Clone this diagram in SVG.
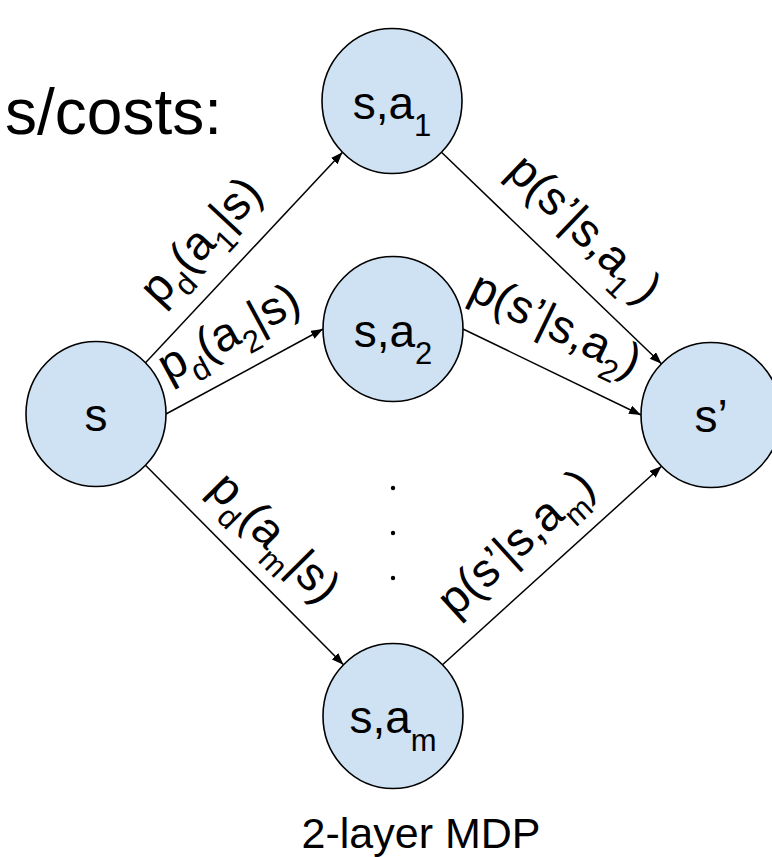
<svg xmlns="http://www.w3.org/2000/svg" width="772" height="857" viewBox="0 0 772 857">
<style>
text{font-family:"Liberation Sans",Arial,Helvetica,sans-serif;fill:#000}
.node ellipse{fill:#cfe2f3;stroke:#000;stroke-width:1.6}
.nt{font-size:46px}
.lab{font-size:47px}
.sub{font-size:31px}
.edge{stroke:#000;stroke-width:1.5;fill:none}
.dot{fill:#000}
</style>
<defs>
<marker id="arr" markerUnits="userSpaceOnUse" markerWidth="13" markerHeight="10" refX="12" refY="4.5" orient="auto">
<path d="M0,0 L12,4.5 L0,9 z" fill="#000"/>
</marker>
</defs>
<text x="222" y="134" font-size="64" text-anchor="end">s/costs:</text>
<g id="connectors">
<line class="edge" x1="145.5" y1="362.7" x2="342.5" y2="152.3" marker-end="url(#arr)"/>
<line class="edge" x1="166" y1="414" x2="323" y2="329" marker-end="url(#arr)"/>
<line class="edge" x1="441.5" y1="152.3" x2="661.5" y2="363.7" marker-end="url(#arr)"/>
<line class="edge" x1="463" y1="329" x2="641" y2="415" marker-end="url(#arr)"/>
<line class="edge" x1="145.5" y1="465.3" x2="343.5" y2="664.7" marker-end="url(#arr)"/>
<line class="edge" x1="442.5" y1="664.7" x2="661.5" y2="466.3" marker-end="url(#arr)"/>
</g>
<g id="labels">
<text class="lab" transform="translate(212,251) rotate(-47)" text-anchor="middle">p<tspan class="sub" dy="14">d</tspan><tspan dy="-14">(a</tspan><tspan class="sub" dy="14">1</tspan><tspan dy="-14">|s)</tspan></text>
<text class="lab" transform="translate(236,346) rotate(-28.4)" text-anchor="middle">p<tspan class="sub" dy="14">d</tspan><tspan dy="-14">(a</tspan><tspan class="sub" dy="14">2</tspan><tspan dy="-14">|s)</tspan></text>
<text class="lab" transform="translate(574,240) rotate(43.9)" text-anchor="middle">p(s’|s,a<tspan class="sub" dy="14">1</tspan><tspan dy="-14" dx="8">)</tspan></text>
<text class="lab" transform="translate(549,338) rotate(25.8)" text-anchor="middle">p(s’|s,a<tspan class="sub" dy="14">2</tspan><tspan dy="-14">)</tspan></text>
<text class="lab" transform="translate(264,548) rotate(45.2)" text-anchor="middle">p<tspan class="sub" dy="14">d</tspan><tspan dy="-14">(a</tspan><tspan class="sub" dy="14">m</tspan><tspan dy="-14">|s)</tspan></text>
<text class="lab" transform="translate(526,554) rotate(-42.2)" text-anchor="middle">p(s’|s,a<tspan class="sub" dy="14">m</tspan><tspan dy="-14">)</tspan></text>
</g>
<g id="dots">
<circle class="dot" cx="393" cy="488" r="2.2"/>
<circle class="dot" cx="393" cy="533" r="2.2"/>
<circle class="dot" cx="393" cy="578" r="2.2"/>
</g>
<g id="node-s" class="node">
<ellipse cx="96" cy="414" rx="70" ry="72.5"/>
<text class="nt" x="96" y="431" text-anchor="middle">s</text>
</g>
<g id="node-sa1" class="node">
<ellipse cx="392" cy="101" rx="70" ry="72.5"/>
<text class="nt" x="392" y="119" text-anchor="middle">s,a<tspan class="sub" dy="17">1</tspan></text>
</g>
<g id="node-sa2" class="node">
<ellipse cx="393" cy="329" rx="70" ry="72.5"/>
<text class="nt" x="393" y="347" text-anchor="middle">s,a<tspan class="sub" dy="17">2</tspan></text>
</g>
<g id="node-sp" class="node">
<ellipse cx="711" cy="415" rx="70" ry="72.5"/>
<text class="nt" x="711" y="432" text-anchor="middle">s’</text>
</g>
<g id="node-sam" class="node">
<ellipse cx="393" cy="716" rx="70" ry="72.5"/>
<text class="nt" x="393" y="733" text-anchor="middle">s,a<tspan class="sub" dy="18">m</tspan></text>
</g>
<text x="421" y="848" font-size="43" text-anchor="middle">2-layer MDP</text>
</svg>
